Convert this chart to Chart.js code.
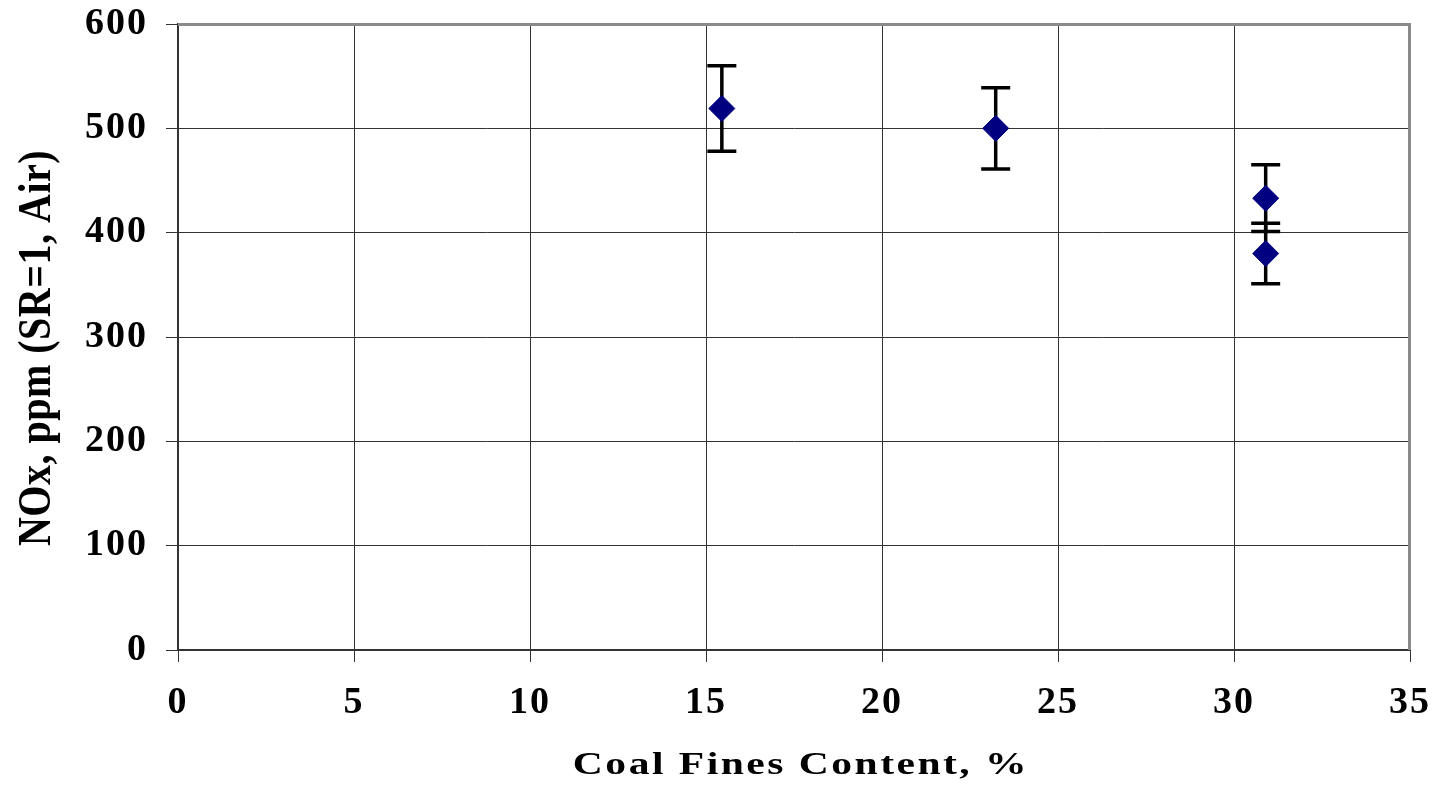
<!DOCTYPE html>
<html>
<head>
<meta charset="utf-8">
<script src="https://cdn.jsdelivr.net/npm/chart.js@4"></script>
<style>
  html, body { margin: 0; padding: 0; background: #fff; }
  #wrap { width: 1437px; height: 793px; }
</style>
</head>
<body>
<div id="wrap"><canvas id="noxChart" width="1437" height="793"></canvas></div>
<script>
// values
const coalFines = [15.45, 23.23, 30.9, 30.9];
const noxPpm = [519, 500, 433, 380];
const noxErr = [41, 39, 32, 29];
const xTicks = [0, 5, 10, 15, 20, 25, 30, 35];
const yTicks = [0, 100, 200, 300, 400, 500, 600];
const xTitle = "Coal Fines Content, %";
const yTitle = "NOx, ppm (SR=1, Air)";

const serif = "'Liberation Serif', 'Times New Roman', serif";

// the original's lettering is wide, so space the tick digits a bit
const wideText = {
  id: "wideText",
  beforeDraw(chart) { chart.ctx.letterSpacing = "2px"; }
};

// error bars drawn under the markers
const errorBars = {
  id: "errorBars",
  beforeDatasetsDraw(chart) {
    const { ctx, scales: { x, y } } = chart;
    ctx.save();
    ctx.strokeStyle = "#000";
    ctx.lineWidth = 3.5;
    coalFines.forEach((cx, i) => {
      const px = x.getPixelForValue(cx);
      const top = y.getPixelForValue(noxPpm[i] + noxErr[i]);
      const bot = y.getPixelForValue(noxPpm[i] - noxErr[i]);
      ctx.beginPath();
      ctx.moveTo(px, top); ctx.lineTo(px, bot);
      ctx.moveTo(px - 14.5, top); ctx.lineTo(px + 14.5, top);
      ctx.moveTo(px - 14.5, bot); ctx.lineTo(px + 14.5, bot);
      ctx.stroke();
    });
    ctx.restore();
  }
};

// grey frame on top and right
const frame = {
  id: "frame",
  beforeDatasetsDraw(chart) {
    const { ctx, chartArea: a } = chart;
    ctx.save();
    ctx.strokeStyle = "#8a8a8a";
    ctx.lineWidth = 3;
    ctx.beginPath();
    ctx.moveTo(a.left, a.top + 0.5);
    ctx.lineTo(a.right - 0.5, a.top + 0.5);
    ctx.lineTo(a.right - 0.5, a.bottom);
    ctx.stroke();
    ctx.restore();
  }
};

// axis titles, stretched a little like the original
const axisTitles = {
  id: "axisTitles",
  afterDraw(chart) {
    const { ctx, chartArea: a } = chart;
    ctx.save();
    ctx.fillStyle = "#000";
    ctx.textAlign = "center";
    ctx.textBaseline = "alphabetic";
    ctx.font = "bold 32px " + serif;
    ctx.letterSpacing = "1.9px";
    ctx.translate((a.left + a.right) / 2 + 7, 774);
    ctx.scale(1.3, 1);
    ctx.fillText(xTitle, 0, 0);
    ctx.restore();

    ctx.save();
    ctx.fillStyle = "#000";
    ctx.textAlign = "center";
    ctx.textBaseline = "alphabetic";
    ctx.font = "bold 40px " + serif;
    ctx.letterSpacing = "0.5px";
    ctx.translate(50, (a.top + a.bottom) / 2 + 11);
    ctx.rotate(-Math.PI / 2);
    ctx.scale(1, 1.15);
    ctx.fillText(yTitle, 0, 0);
    ctx.restore();
  }
};

new Chart(document.getElementById("noxChart"), {
  type: "scatter",
  data: {
    datasets: [{
      data: coalFines.map((v, i) => ({ x: v, y: noxPpm[i] })),
      pointStyle: "rectRot",
      pointRadius: 13,
      pointHoverRadius: 13,
      backgroundColor: "#000080",
      borderColor: "#000080",
      borderWidth: 1
    }]
  },
  options: {
    responsive: false,
    animation: false,
    layout: { padding: 0 },
    plugins: {
      legend: { display: false },
      tooltip: { enabled: false }
    },
    scales: {
      x: {
        type: "linear",
        min: 0,
        max: 35,
        afterBuildTicks: s => { s.ticks = xTicks.map(v => ({ value: v })); },
        afterFit: s => { s.height = 143; s.paddingLeft = 0; s.paddingRight = 27; },
        grid: { color: "#333", lineWidth: 1, tickLength: 12, tickColor: "#333" },
        border: { color: "#333", width: 2 },
        ticks: { color: "#000", font: { family: serif, size: 38, weight: "bold" }, padding: 18 }
      },
      y: {
        min: 0,
        max: 600,
        afterBuildTicks: s => { s.ticks = yTicks.map(v => ({ value: v })); },
        afterFit: s => { s.width = 178; s.paddingTop = 24; s.paddingBottom = 0; },
        grid: { color: "#333", lineWidth: 1, tickLength: 12, tickColor: "#333" },
        border: { color: "#333", width: 2 },
        ticks: { color: "#000", font: { family: serif, size: 38, weight: "bold" }, padding: 18 }
      }
    }
  },
  plugins: [wideText, frame, errorBars, axisTitles]
});
</script>
</body>
</html>
